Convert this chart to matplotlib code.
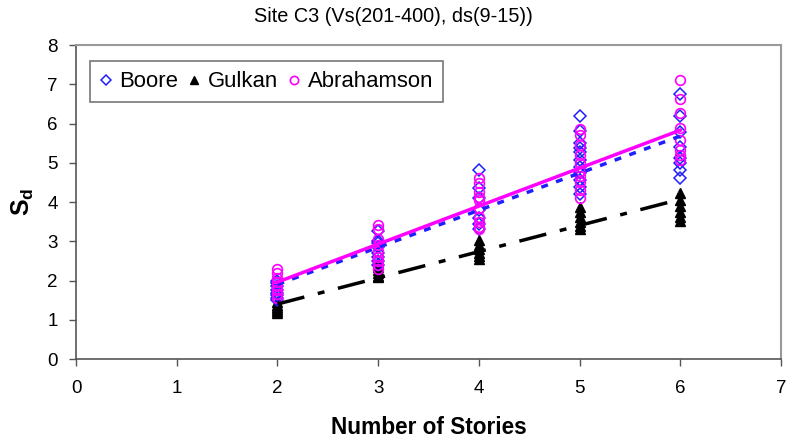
import matplotlib.pyplot as plt
import numpy as np

plt.rcParams['font.family'] = ['Liberation Sans', 'DejaVu Sans']

stories = [2, 3, 4, 5, 6]

# Sd values read per number of stories
boore = {
    2: [2.0, 1.93, 1.85, 1.76, 1.68, 1.63, 1.55, 1.5],
    3: [3.25, 3.0, 2.95, 2.85, 2.7, 2.6, 2.5, 2.4],
    4: [4.82, 4.35, 4.1, 3.8, 3.6, 3.45, 3.3],
    5: [6.2, 5.8, 5.5, 5.37, 5.27, 5.07, 4.9, 4.75, 4.56, 4.38, 4.2],
    6: [6.75, 6.2, 5.78, 5.4, 5.12, 5.0, 4.82, 4.6],
}
gulkan = {
    2: [1.45, 1.38, 1.32, 1.27, 1.22, 1.18],
    3: [2.45, 2.35, 2.28, 2.2, 2.12, 2.08],
    4: [3.02, 2.9, 2.8, 2.7, 2.62, 2.55],
    5: [3.88, 3.75, 3.62, 3.5, 3.4, 3.3],
    6: [4.22, 4.05, 3.9, 3.75, 3.62, 3.52],
}
abrahamson = {
    2: [2.3, 2.19, 2.06, 1.95, 1.85, 1.75, 1.65, 1.55],
    3: [3.42, 3.3, 3.05, 2.9, 2.75, 2.6, 2.5, 2.4, 2.3],
    4: [4.6, 4.48, 4.25, 4.13, 4.05, 3.85, 3.62, 3.5, 3.37, 3.3],
    5: [5.86, 5.7, 5.45, 5.2, 5.0, 4.8, 4.65, 4.5, 4.3, 4.1],
    6: [7.1, 6.62, 6.27, 5.88, 5.58, 5.32, 5.2, 5.07],
}

# trend line end points (x=2 and x=6)
trend_x = [2, 6]
boore_trend = [1.9, 5.68]
gulkan_trend = [1.4, 4.07]
abrahamson_trend = [1.96, 5.83]


def flat(d):
    xs, ys = [], []
    for k in stories:
        xs += [k] * len(d[k])
        ys += d[k]
    return np.array(xs), np.array(ys)


fig = plt.figure(figsize=(7.96, 4.47), dpi=100)
ax = fig.add_axes([76/796, 1 - 359/447, 705/796, 314/447])

bx, by = flat(boore)
gx, gy = flat(gulkan)
ax_, ay = flat(abrahamson)

ax.plot(gx, gy, ls='none', marker='^', ms=7.5, color='black', label='Gulkan', zorder=3)
ax.plot(bx, by, ls='none', marker='D', ms=6.2, mfc='none', mec='#1f1fff', mew=1.1, label='Boore', zorder=3)
ax.plot(ax_, ay, ls='none', marker='o', ms=7, mfc='none', mec='#ff00ff', mew=1.2, label='Abrahamson', zorder=3)

ax.plot(trend_x, gulkan_trend, color='black', lw=2.5, ls=(0, (8, 4, 2, 4)), zorder=4)
ax.plot(trend_x, boore_trend, color='#1f1fff', lw=2.5, ls=(0, (2, 2.5)), zorder=4)
ax.plot(trend_x, abrahamson_trend, color='#ff00ff', lw=2.5, zorder=5)

ax.set_xlim(0, 7)
ax.set_ylim(0, 8)
ax.set_xticks(range(0, 8))
ax.set_yticks(range(0, 9))
ax.tick_params(direction='out', length=5, width=1, color='#555555', labelsize=13.5)
ax.tick_params(axis='x', pad=10)
ax.tick_params(axis='y', pad=8)
for s in ['left', 'bottom']:
    ax.spines[s].set_color('#555555')
    ax.spines[s].set_linewidth(1.2)
for s in ['top', 'right']:
    ax.spines[s].set_color('#999999')
    ax.spines[s].set_linewidth(1.5)

fig.text(0.494, 1 - 16/447, 'Site C3 (Vs(201-400), ds(9-15))', fontsize=14.3,
         ha='center', va='center')
ax.set_xlabel('Number of Stories', fontsize=16.3, fontweight='bold', labelpad=14)
ax.set_ylabel(r'S$_\mathregular{d}$', fontsize=18, fontweight='bold', labelpad=8)

h, l = ax.get_legend_handles_labels()
order = [1, 0, 2]
leg = ax.legend([h[i] for i in order], [l[i] for i in order], ncol=3, loc='upper left',
                bbox_to_anchor=(0.02, 0.948), fontsize=15.9, frameon=True, fancybox=False,
                handlelength=0.5, handletextpad=0.35, columnspacing=0.5, borderpad=0.45,
                borderaxespad=0, markerscale=0.85)
leg.get_frame().set_edgecolor('#555555')
leg.get_frame().set_linewidth(1.2)

fig.savefig('out.png', dpi=100)
